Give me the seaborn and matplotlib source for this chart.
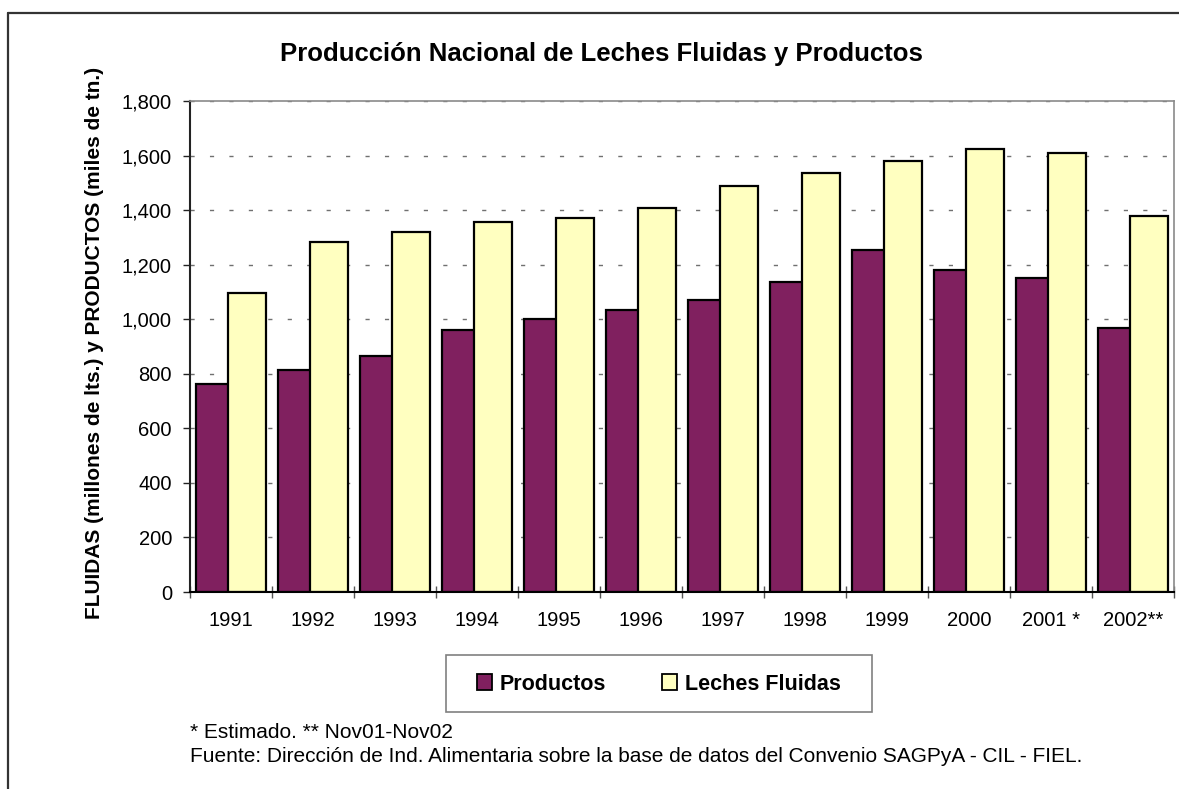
import matplotlib
matplotlib.use("Agg")
import matplotlib.pyplot as plt
from matplotlib.lines import Line2D
from matplotlib.patches import Patch, Rectangle
from matplotlib.ticker import FuncFormatter, FixedLocator
import seaborn as sns
import pandas as pd

# ---- data ----
years = ["1991", "1992", "1993", "1994", "1995", "1996",
         "1997", "1998", "1999", "2000", "2001 *", "2002**"]
productos = [763, 815, 866, 961, 1000, 1035, 1072, 1138, 1255, 1182, 1152, 969]
leches = [1095, 1284, 1321, 1358, 1372, 1409, 1490, 1535, 1579, 1623, 1608, 1380]
series = ["Productos", "Leches Fluidas"]
colors = ["#80205F", "#FFFFC0"]
yticks = [0, 200, 400, 600, 800, 1000, 1200, 1400, 1600, 1800]

title = "Producción Nacional de Leches Fluidas y Productos"
ylabel = "FLUIDAS (millones de lts.) y PRODUCTOS (miles de tn.)"
note1 = "* Estimado. ** Nov01-Nov02"
note2 = "Fuente: Dirección de Ind. Alimentaria sobre la base de datos del Convenio SAGPyA - CIL - FIEL."

df = pd.DataFrame({
    "Año": years * 2,
    "Serie": [series[0]] * len(years) + [series[1]] * len(years),
    "Valor": productos + leches,
})

sns.set_style("white")
plt.rcParams["font.family"] = ["Liberation Sans", "DejaVu Sans"]
plt.rcParams["text.color"] = "black"
plt.rcParams["xtick.labelcolor"] = "black"
plt.rcParams["ytick.labelcolor"] = "black"

W, H = 1179, 789
fig = plt.figure(figsize=(W / 100, H / 100), dpi=100)
L, R, T, B = 190, 1174, 101, 592
ax = fig.add_axes([L / W, 1 - B / H, (R - L) / W, (B - T) / H])

sns.barplot(data=df, x="Año", y="Valor", hue="Serie", hue_order=series,
            palette=colors, width=0.78, saturation=1, edgecolor="black",
            linewidth=1.6, legend=False, ax=ax, err_kws={"linewidth": 0})

# Excel-like overlapping bars
bw = 0.463
for i, cont in enumerate(ax.containers):
    for bar in cont:
        cx = bar.get_x() + bar.get_width() / 2
        bar.set_width(bw)
        bar.set_x(cx - bw / 2)
        bar.set_zorder(2 + i)

ax.set_xlim(-0.5, len(years) - 0.5)
ax.set_ylim(0, 1800)
ax.set_xlabel("")
ax.set_ylabel("")

ax.yaxis.set_major_locator(FixedLocator(yticks))
ax.yaxis.set_major_formatter(FuncFormatter(lambda v, p: f"{int(v):,}"))
ax.tick_params(axis="y", which="major", direction="out", length=5, width=1,
               color="#222222", labelcolor="black", labelsize=14.5, pad=8, left=True)
ax.tick_params(axis="x", which="major", length=0, labelsize=14.5, pad=14,
               labelcolor="black")
ax.set_xticks(range(len(years)))
ax.set_xticklabels(years)
ax.set_xticks([i - 0.5 for i in range(len(years) + 1)], minor=True)
ax.tick_params(axis="x", which="minor", direction="inout", length=9, width=1,
               color="#555555", bottom=True)

ax.yaxis.grid(True, linestyle=(0, (3, 11)), color="#707070", linewidth=1.0)
ax.set_axisbelow(True)

ax.spines["left"].set_color("#222222")
ax.spines["left"].set_linewidth(1.5)
ax.spines["bottom"].set_color("#000000")
ax.spines["bottom"].set_linewidth(1.5)
ax.spines["bottom"].set_zorder(5)
for s in ["top", "right"]:
    ax.spines[s].set_color("#8a8a8a")
    ax.spines[s].set_linewidth(1.2)

# Title, y label
fig.text(601 / W, 1 - 54 / H, title, ha="center", va="center",
         fontsize=18.5, fontweight="bold", color="black")
fig.text(95 / W, 1 - 343 / H, ylabel, ha="center", va="center",
         rotation=90, fontsize=15, fontweight="bold", color="black")

# Legend
handles = [Patch(facecolor=c, edgecolor="black", linewidth=1.3) for c in colors]
leg = fig.legend(handles, series, loc="center",
                 bbox_to_anchor=(659 / W, 1 - 684 / H), ncol=2,
                 frameon=False,
                 prop={"weight": "bold", "size": 15.5},
                 handlelength=0.7, handleheight=0.7, handletextpad=0.35,
                 columnspacing=2.6, borderpad=0.5, borderaxespad=0,
                 labelcolor="black")
fig.add_artist(Rectangle((446 / W, 1 - 712 / H), (872 - 446) / W, (712 - 655) / H,
                         transform=fig.transFigure, facecolor="none",
                         edgecolor="#808080", linewidth=1.2))

# Notes
fig.text(190 / W, 1 - 732 / H, note1, ha="left", va="center", fontsize=15, color="black")
fig.text(190 / W, 1 - 757 / H, note2, ha="left", va="center", fontsize=15, color="black")

# Outer frame (partially visible)
fig.add_artist(Line2D([8 / W, 8 / W], [0, 1 - 13 / H], transform=fig.transFigure,
                      color="#333333", linewidth=1.6))
fig.add_artist(Line2D([8 / W, 1], [1 - 13 / H, 1 - 13 / H], transform=fig.transFigure,
                      color="#333333", linewidth=1.6))

fig.savefig("out.png", dpi=100)
